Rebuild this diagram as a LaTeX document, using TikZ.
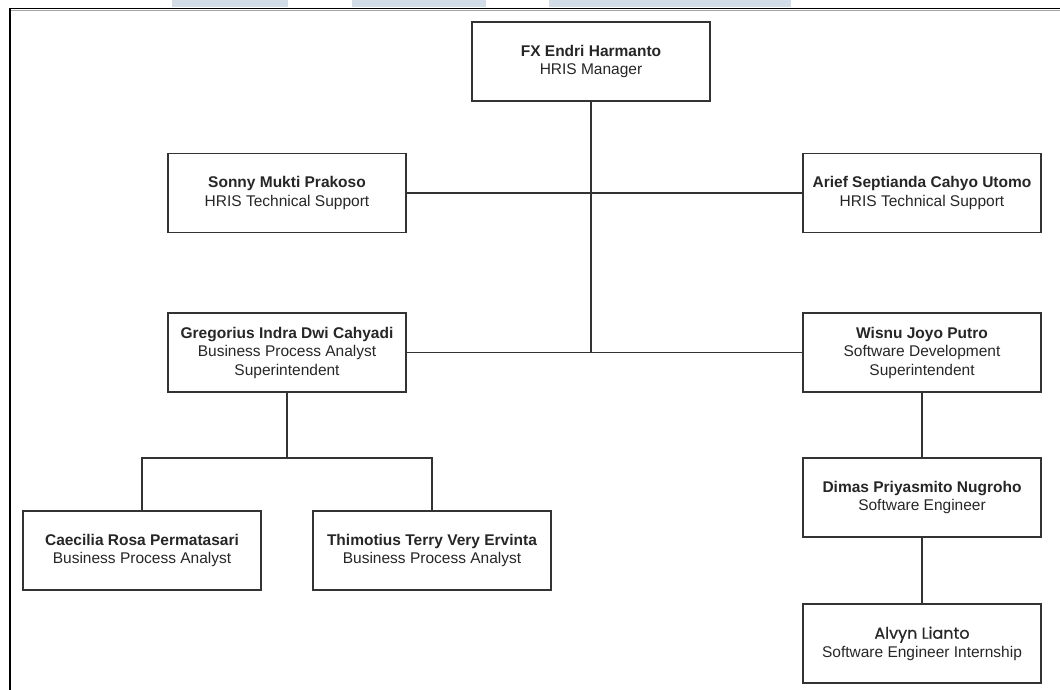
\documentclass[tikz,border=0pt]{standalone}
\usepackage{fontspec}
\setmainfont{Liberation Sans}
\newfontfamily\alvynfont{Poppins}[FakeBold=0.6]
\usepackage{xcolor}
\definecolor{bandblue}{HTML}{D3DDE8}
\definecolor{boxline}{HTML}{333333}

\begin{document}
\begin{tikzpicture}[x=1pt, y=-1pt,
  box/.style={draw=boxline, line width=1.1pt, rectangle, minimum width=238pt,
              minimum height=79pt, inner sep=0pt, align=center,
              font=\fontsize{15.5}{18.5}\selectfont, text=black!85},
  link/.style={draw=boxline, line width=1.1pt}]

\useasboundingbox (0,0) rectangle (1060,690);

\fill[bandblue] (172,0) rectangle (288,7.5);
\fill[bandblue] (352,0) rectangle (486,7.5);
\fill[bandblue] (549,0) rectangle (791,7.5);
\draw[black!35, line width=0.8pt] (11,10.3) -- (1060,10.3);
\draw[black, line width=1.6pt] (10,690) -- (10,8.5) -- (1060,8.5);

\node[box] (fx) at (591,61.5) {\textbf{FX Endri Harmanto}\\ HRIS Manager};

\node[box] (sonny) at (287,193) {\textbf{Sonny Mukti Prakoso}\\ HRIS Technical Support};
\node[box] (arief) at (922,193) {\textbf{Arief Septianda Cahyo Utomo}\\ HRIS Technical Support};

\node[box] (greg) at (287,352.5) {\textbf{Gregorius Indra Dwi Cahyadi}\\ Business Process Analyst\\ Superintendent};
\node[box] (wisnu) at (922,352.5) {\textbf{Wisnu Joyo Putro}\\ Software Development\\ Superintendent};

\node[box] (caec) at (142,550.5) {\textbf{Caecilia Rosa Permatasari}\\ Business Process Analyst};
\node[box] (thim) at (432,550.5) {\textbf{Thimotius Terry Very Ervinta}\\ Business Process Analyst};

\node[box] (dimas) at (922,497.5) {\textbf{Dimas Priyasmito Nugroho}\\ Software Engineer};
\node[box] (alvyn) at (922,643.5) {{\alvynfont\fontsize{16}{17}\selectfont Alvyn Lianto}\\ Software Engineer Internship};

\coordinate (hub) at (fx.south |- greg.east);
\coordinate (gsplit) at (287,458);

\draw[link] (fx) -- (hub);
\draw[link] (sonny) -- (arief);
\draw[link] (greg) -- (wisnu);
\draw[link] (greg) -- (gsplit);
\draw[link] (caec.north) |- (gsplit) -| (thim.north);
\draw[link] (wisnu) -- (dimas);
\draw[link] (dimas) -- (alvyn);
\end{tikzpicture}
\end{document}
